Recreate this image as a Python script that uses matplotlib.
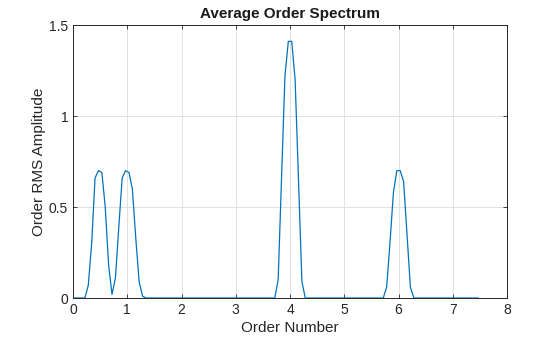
import numpy as np
import matplotlib.pyplot as plt

plt.rcParams["font.family"] = ["Liberation Sans", "DejaVu Sans"]

# order axis: bins of 1/16 order, centred between integer multiples
order_step = 0.0625
n_bins = 120

# non-zero samples of the averaged RMS amplitude around each peak (order -> amplitude)
peak_half = {0.281: 0.07, 0.344: 0.30, 0.406: 0.66, 0.469: 0.70, 0.531: 0.69,
             0.594: 0.50, 0.656: 0.18, 0.719: 0.02}
peak_one = {0.781: 0.11, 0.844: 0.39, 0.906: 0.66, 0.969: 0.70, 1.031: 0.69,
            1.094: 0.60, 1.156: 0.33, 1.219: 0.09, 1.281: 0.01}
peak_four = {3.781: 0.10, 3.844: 0.66, 3.906: 1.22, 3.969: 1.41, 4.031: 1.41,
             4.094: 1.20, 4.156: 0.65, 4.219: 0.09}
peak_six = {5.781: 0.06, 5.844: 0.31, 5.906: 0.58, 5.969: 0.70, 6.031: 0.70,
            6.094: 0.64, 6.156: 0.35, 6.219: 0.06}

orders = order_step / 2 + order_step * np.arange(n_bins)
amplitude = np.zeros(n_bins)
for peak in (peak_half, peak_one, peak_four, peak_six):
    for o, a in peak.items():
        amplitude[int(round((o - order_step / 2) / order_step))] = a

# spectrum starts at order 0
orders = np.concatenate([[0.0], orders])
amplitude = np.concatenate([[0.0], amplitude])

fig = plt.figure(figsize=(5.6, 3.37), dpi=100)
ax = fig.add_axes([0.1304, 0.1157, 0.775, 0.8101])
ax.plot(orders, amplitude, color="#0072BD", lw=0.9)

ax.set_xlim(0, 8)
ax.set_ylim(0, 1.5)
ax.set_xticks(range(9))
ax.set_yticks([0, 0.5, 1, 1.5])
ax.set_yticklabels(["0", "0.5", "1", "1.5"])
ax.grid(True, color="#dcdcdc", lw=0.6)
ax.set_axisbelow(True)
ax.tick_params(direction="in", length=3, width=0.6, labelsize=10,
               top=True, right=True, colors="#262626")
for s in ax.spines.values():
    s.set_linewidth(0.7)
    s.set_color("#262626")

ax.set_title("Average Order Spectrum", fontsize=11, fontweight="bold", color="#1a1a1a", pad=5)
ax.set_xlabel("Order Number", fontsize=11, color="#262626", labelpad=3)
ax.set_ylabel("Order RMS Amplitude", fontsize=11, color="#262626", labelpad=2)

fig.savefig("out.png", dpi=100)
